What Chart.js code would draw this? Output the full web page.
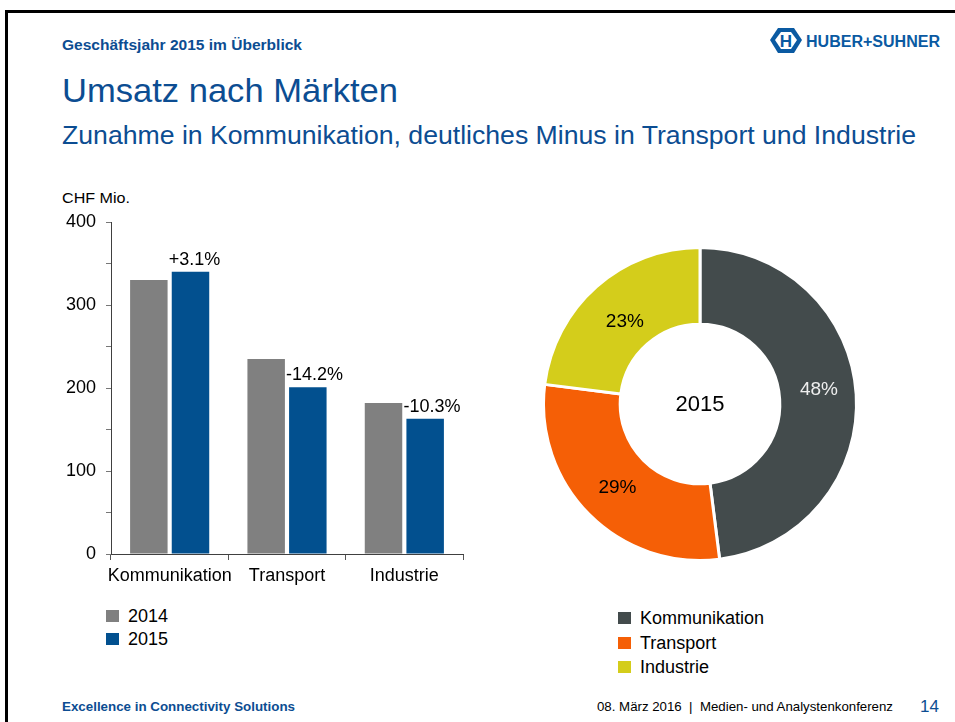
<!DOCTYPE html>
<html>
<head>
<meta charset="utf-8">
<script src="https://cdn.jsdelivr.net/npm/chart.js"></script>
<style>
  body { margin: 0; background: #fff; font-family: "Liberation Sans", Arial, sans-serif; }
  #slide { position: relative; width: 955px; height: 722px; overflow: hidden; }
  .abs { position: absolute; white-space: nowrap; line-height: 1; transform-origin: 0 50%; }
  .frameTop { left: 5px; top: 10px; width: 950px; height: 3px; background: #000; }
  .frameLeft { left: 5px; top: 10px; width: 3px; height: 712px; background: #000; }
  .blue { color: #0c4d92; }
  .sq { position: absolute; width: 13px; height: 12px; }
</style>
</head>
<body>
<div id="slide">
  <div class="abs frameTop"></div>
  <div class="abs frameLeft"></div>

  <div class="abs blue fit" data-w="240" style="left:62px; top:38px; font-size:14px; font-weight:bold;">Geschäftsjahr 2015 im Überblick</div>
  <div class="abs blue fit" data-w="336" style="left:62px; top:74px; font-size:33px;">Umsatz nach Märkten</div>
  <div class="abs blue fit" data-w="854" style="left:62px; top:122px; font-size:26px;">Zunahme in Kommunikation, deutliches Minus in Transport und Industrie</div>

  <svg class="abs" style="left:768px; top:26px;" width="180" height="30">
    <polygon points="2,14 10,2 26,2 34,14 26,27 10,27" fill="#0a5aa2"/>
    <polygon points="7,14 13,6 23,6 29,14 23,23 13,23" fill="#fff"/>
    <text x="18" y="21" text-anchor="middle" font-family="Liberation Sans" font-weight="bold" font-size="17" fill="#0a5aa2">H</text>
    <text x="38" y="21" font-family="Liberation Sans" font-weight="bold" font-size="16" fill="#0a5aa2" textLength="134" lengthAdjust="spacingAndGlyphs">HUBER+SUHNER</text>
  </svg>

  <div class="abs fit" data-w="68" style="left:62px; top:190px; font-size:15px; color:#000;">CHF Mio.</div>

  <div class="abs" style="left:50px; top:200px; width:420px; height:400px;">
    <canvas id="barChart" width="420" height="400"></canvas>
  </div>

  <div class="abs" style="left:540px; top:244px; width:320px; height:320px;">
    <canvas id="donutChart" width="320" height="320"></canvas>
  </div>

  <div id="barLegend"></div>
  <div id="donutLegend"></div>

  <div class="abs blue fit" data-w="233" style="left:62px; top:700px; font-size:13px; font-weight:bold;">Excellence in Connectivity Solutions</div>
  <div class="abs fit" data-w="296" style="left:597px; top:700px; font-size:13px; color:#000;">08. März 2016 &nbsp;| &nbsp;Medien- und Analystenkonferenz</div>
  <div class="abs blue" style="left:920px; top:698px; font-size:17px;">14</div>
</div>

<script>
// Bar chart data (CHF Mio.)
const markets = ["Kommunikation", "Transport", "Industrie"];
const years = ["2014", "2015"];
const sales2014 = [330, 235, 182];
const sales2015 = [340, 201, 163];
const changeLabels = ["+3.1%", "-14.2%", "-10.3%"];
const yTickLabels = [0, 100, 200, 300, 400];

// Donut data (share 2015)
const shares2015 = [48, 29, 23];
const shareLabels = ["48%", "29%", "23%"];

const barColors = ["#808080", "#02508f"];
const donutColors = ["#434b4c", "#f55f06", "#d4cd1b"];
const fontName = "'Liberation Sans', Arial, sans-serif";

Chart.defaults.font.family = fontName;
Chart.defaults.color = "#000";

// labels above the 2015 bars
const changePlugin = {
    id: "changeLabels",
    afterDatasetsDraw(chart) {
        const ctx = chart.ctx;
        const meta = chart.getDatasetMeta(1);
        ctx.save();
        ctx.font = "18px " + fontName;
        ctx.fillStyle = "#000";
        ctx.textAlign = "left";
        ctx.textBaseline = "alphabetic";
        meta.data.forEach((bar, i) => {
            ctx.fillText(changeLabels[i], bar.x - bar.width / 2 - 3, bar.y - 7);
        });
        ctx.restore();
    }
};

new Chart(document.getElementById("barChart"), {
    type: "bar",
    data: {
        labels: markets,
        datasets: [
            { label: years[0], data: sales2014, backgroundColor: barColors[0] },
            { label: years[1], data: sales2015, backgroundColor: barColors[1] }
        ]
    },
    options: {
        responsive: false,
        animation: false,
        categoryPercentage: 0.71,
        barPercentage: 0.9,
        layout: { padding: { top: 22, right: 7, left: 0, bottom: 0 } },
        plugins: { legend: { display: false }, tooltip: { enabled: false } },
        scales: {
            x: {
                grid: { display: true, drawOnChartArea: false, offset: true, tickLength: 6, color: "#555" },
                border: { color: "#404040", width: 1 },
                ticks: { font: { size: 18 }, padding: 5, color: "#000", maxRotation: 0, autoSkip: false },
                afterFit(scale) { scale.height = 46; }
            },
            y: {
                min: 0,
                max: 400,
                grid: { display: true, drawOnChartArea: false, tickLength: 5, color: "#777" },
                border: { color: "#404040", width: 1 },
                ticks: {
                    stepSize: 50,
                    font: { size: 18 },
                    padding: 10,
                    color: "#000",
                    autoSkip: false,
                    callback: v => yTickLabels.includes(v) ? v : ""
                },
                afterFit(scale) { scale.width = 61; }
            }
        }
    },
    plugins: [changePlugin]
});

// percentages on the ring and the year in the middle
const donutPlugin = {
    id: "donutLabels",
    afterDatasetsDraw(chart) {
        const ctx = chart.ctx;
        const meta = chart.getDatasetMeta(0);
        ctx.save();
        ctx.textAlign = "center";
        ctx.textBaseline = "middle";
        ctx.font = "19px " + fontName;
        meta.data.forEach((arc, i) => {
            const p = arc.tooltipPosition();
            ctx.fillStyle = i === 0 ? "#eeeeee" : "#000";
            ctx.fillText(shareLabels[i], p.x + (i === 2 ? 3 : 1), p.y + (i === 0 ? -7 : i === 2 ? 6 : 0));
        });
        const c = meta.data[0];
        ctx.font = "22px " + fontName;
        ctx.fillStyle = "#000";
        ctx.fillText(years[1], c.x, c.y + 1);
        ctx.restore();
    }
};

new Chart(document.getElementById("donutChart"), {
    type: "doughnut",
    data: {
        labels: markets,
        datasets: [{
            data: shares2015,
            backgroundColor: donutColors,
            borderColor: "#fff",
            borderWidth: 3
        }]
    },
    options: {
        responsive: false,
        animation: false,
        cutout: "51%",
        layout: { padding: 2 },
        plugins: { legend: { display: false }, tooltip: { enabled: false } }
    },
    plugins: [donutPlugin]
});

// legends
function buildLegend(el, items, colors, left, tops, fontSize) {
    let html = "";
    items.forEach((name, i) => {
        html += '<div class="sq" style="left:' + left + 'px; top:' + (tops[i] - 6) + 'px; background:' + colors[i] + ';"></div>';
        html += '<div class="abs" style="left:' + (left + 22) + 'px; top:' + (tops[i] - fontSize / 2) + 'px; font-size:' + fontSize + 'px; color:#000;">' + name + '</div>';
    });
    el.innerHTML = html;
}

buildLegend(document.getElementById("barLegend"), years, barColors, 106, [616, 639], 18);
buildLegend(document.getElementById("donutLegend"), markets, donutColors, 618, [618, 643, 667], 18);

// stretch slide texts to the widths seen in the picture
document.querySelectorAll(".fit").forEach(el => {
    const w = el.getBoundingClientRect().width;
    el.style.transform = "scaleX(" + (Number(el.dataset.w) / w) + ")";
});
</script>
</body>
</html>
